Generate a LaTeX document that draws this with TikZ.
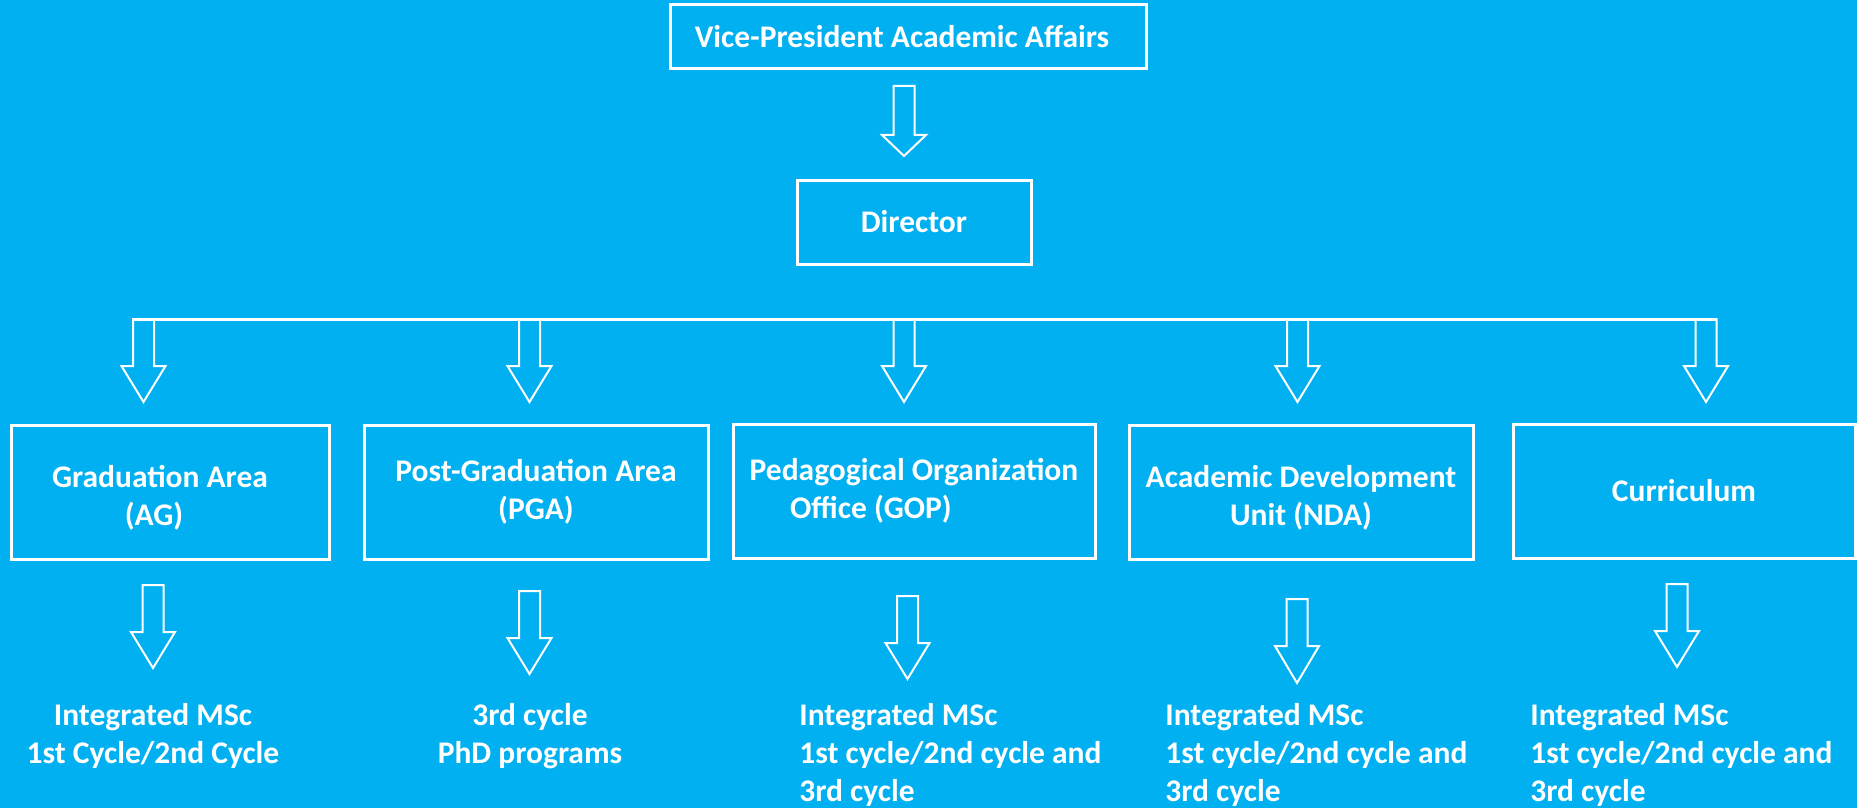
\documentclass[tikz,border=0pt]{standalone}
\usepackage{fontspec}
\setmainfont{Carlito}
\usetikzlibrary{positioning,calc}

\definecolor{skyblue}{HTML}{00B0F0}

\tikzset{
  box/.style={draw=white, line width=1.5pt, inner sep=0pt, align=center, text=white,
    font=\bfseries\fontsize{15.75}{19}\selectfont},
  outtext/.style={inner sep=0pt, text=white, font=\bfseries\fontsize{15.75}{19}\selectfont},
  pics/darrow/.style 2 args={code={
    \draw[white, line width=1pt] (-10.5,0) -- (-10.5,#1) -- (-22,#1) -- (0,#1+#2) -- (22,#1) -- (10.5,#1) -- (10.5,0) -- cycle;
  }}
}

\begin{document}
\begin{tikzpicture}[x=0.5pt, y=-0.5pt]
        \fill[skyblue] (0,0) rectangle (1857,808);
        \useasboundingbox (0,0) rectangle (1857,808);

        \node[box, minimum width=238pt, minimum height=32pt] (vp) at (908,37) {Vice-President Academic Affairs\hspace*{6pt}};
        \node[box, minimum width=117pt, minimum height=42pt] (dir) at (914,222) {Director};

        \node[box, minimum width=159pt, minimum height=67pt] (ag) at (170,492) {\rule{0pt}{17pt}Graduation Area\hspace*{10pt}\\(AG)\hspace*{16pt}};
        \node[box, minimum width=172pt, minimum height=67pt] (pga) at (536,492) {Post-Graduation Area\\(PGA)};
        \node[box, minimum width=181pt, minimum height=67pt] (gop) at (914,491) {Pedagogical Organization\\Office (GOP)\hspace*{43pt}};
        \node[box, minimum width=172pt, minimum height=67pt] (nda) at (1301,492) {\rule{0pt}{17pt}Academic Development\\Unit (NDA)};
        \node[box, minimum width=171pt, minimum height=67pt] (cur) at (1684,491) {Curriculum};

        \node[outtext, align=center] (o1) at (153,736) {Integrated MSc\\1st Cycle/2nd Cycle};
        \node[outtext, align=center] (o2) at (530,736) {3rd cycle\\PhD programs};
        \node[outtext, align=left, anchor=west] (o3) at (799,755) {Integrated MSc\\1st cycle/2nd cycle and\\3rd cycle};
        \node[outtext, align=left, anchor=west] (o4) at (1165,755) {Integrated MSc\\1st cycle/2nd cycle and\\3rd cycle};
        \node[outtext, align=left, anchor=west] (o5) at (1530,755) {Integrated MSc\\1st cycle/2nd cycle and\\3rd cycle};

        % vice-president to director
        \pic at (904,86) {darrow={49}{21}};

        % director to the five areas
        \draw[white, line width=1.5pt] (133,319) -- (1717,319);
        \pic at (143.5,319) {darrow={47}{36}};
        \pic at (529.5,319) {darrow={47}{36}};
        \pic at (904,319) {darrow={47}{36}};
        \pic at (1297.5,319) {darrow={47}{36}};
        \pic at (1706,319) {darrow={47}{36}};

        % areas to programmes
        \pic at (153,585) {darrow={47}{36}};
        \pic at (529.5,591) {darrow={47}{36}};
        \pic at (907.5,596) {darrow={47}{36}};
        \pic at (1297,599) {darrow={47}{37}};
        \pic at (1677,584) {darrow={47}{36}};
\end{tikzpicture}
\end{document}
